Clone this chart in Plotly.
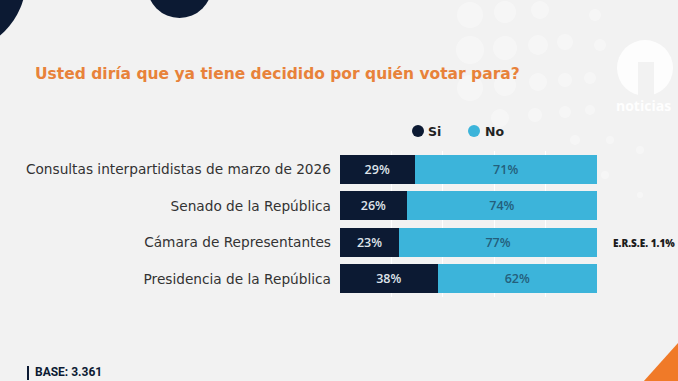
import plotly.graph_objects as go

categories = ["Consultas interpartidistas de marzo de 2026", "Senado de la República",
              "Cámara de Representantes", "Presidencia de la República"]
si_values = [29, 26, 23, 38]
no_values = [71, 74, 77, 62]
series_names = ["Si", "No"]
title_text = "Usted diría que ya tiene decidido por quién votar para?"
error_text = "E.R.S.E. 1.1%"
base_text = "BASE: 3.361"

W, H = 678, 381
L, R, T, B = 340, 81, 151, 84
PW, PH = W - L - R, H - T - B

def px(x):
    return (x - L) / PW

def py(y):
    return (H - B - y) / PH

DARK = "#0c1a33"
BLUE = "#3cb4da"
BG = "#f2f2f2"
ORANGE = "#e8823a"
FONT = "DejaVu Sans"

fig = go.Figure()
fig.add_trace(go.Bar(
    y=categories, x=si_values, orientation="h", name=series_names[0],
    marker=dict(color=DARK, line=dict(width=0)),
    texttemplate="%{x}%", textposition="inside", insidetextanchor="middle",
    textfont=dict(color="#dfe3ea", size=12.5, family="Open Sans", weight=600),
    showlegend=False))
fig.add_trace(go.Bar(
    y=categories, x=no_values, orientation="h", name=series_names[1],
    marker=dict(color=BLUE, line=dict(width=0)),
    texttemplate="%{x}%", textposition="inside", insidetextanchor="middle",
    textfont=dict(color="#245f7c", size=12.5, family="Open Sans", weight=600),
    showlegend=False))

shapes = []
# decorations top-left
shapes.append(dict(type="circle", xref="paper", yref="paper",
                   x0=px(-46 - 72), x1=px(-46 + 72), y0=py(-20 + 72), y1=py(-20 - 72),
                   fillcolor=DARK, line=dict(width=0), layer="below"))
shapes.append(dict(type="circle", xref="paper", yref="paper",
                   x0=px(147), x1=px(212), y0=py(18), y1=py(-47),
                   fillcolor=DARK, line=dict(width=0), layer="below"))
# faint white dots top-right
dots = [(470, 15, 13), (505, 12, 11), (540, 10, 9), (470, 50, 14), (505, 48, 12),
        (538, 45, 10), (565, 42, 8), (470, 88, 13), (505, 85, 11), (538, 82, 9),
        (565, 80, 7), (590, 78, 6), (500, 118, 9), (535, 115, 7), (565, 112, 6),
        (590, 110, 5), (600, 45, 6), (595, 15, 6), (575, 140, 5), (610, 140, 4),
        (560, 165, 4), (605, 175, 4), (640, 150, 4), (640, 195, 3)]
for cx, cy, r in dots:
    shapes.append(dict(type="circle", xref="paper", yref="paper",
                       x0=px(cx - r), x1=px(cx + r), y0=py(cy + r), y1=py(cy - r),
                       fillcolor="rgba(255,255,255,0.35)", line=dict(width=0), layer="below"))
# logo "n"
shapes.append(dict(type="circle", xref="paper", yref="paper",
                   x0=px(617), x1=px(673), y0=py(96), y1=py(40),
                   fillcolor="rgba(255,255,255,0.85)", line=dict(width=0), layer="below"))
shapes.append(dict(type="rect", xref="paper", yref="paper",
                   x0=px(638), x1=px(654), y0=py(97), y1=py(62),
                   fillcolor=BG, line=dict(width=0), layer="below"))
# orange triangle bottom right
shapes.append(dict(type="path", xref="paper", yref="paper",
                   path=f"M {px(643)} {py(382)} L {px(679)} {py(342)} L {px(679)} {py(382)} Z",
                   fillcolor="#f07a28", line=dict(width=0)))
# legend markers
shapes.append(dict(type="circle", xref="paper", yref="paper",
                   x0=px(412), x1=px(424), y0=py(137), y1=py(125),
                   fillcolor=DARK, line=dict(width=0)))
shapes.append(dict(type="circle", xref="paper", yref="paper",
                   x0=px(468), x1=px(480), y0=py(137), y1=py(125),
                   fillcolor=BLUE, line=dict(width=0)))
# base marker bar
shapes.append(dict(type="line", xref="paper", yref="paper",
                   x0=px(28), x1=px(28), y0=py(366), y1=py(380),
                   line=dict(color=DARK, width=2)))

annotations = [
    dict(text=title_text, xref="paper", yref="paper", x=px(33), y=py(74),
         xanchor="left", yanchor="middle", showarrow=False,
         font=dict(family=FONT, size=15.5, color=ORANGE, weight=700)),
    dict(text=series_names[0], xref="paper", yref="paper", x=px(426), y=py(131),
         xanchor="left", yanchor="middle", showarrow=False,
         font=dict(family=FONT, size=12.5, color="#222", weight=600)),
    dict(text=series_names[1], xref="paper", yref="paper", x=px(483), y=py(131),
         xanchor="left", yanchor="middle", showarrow=False,
         font=dict(family=FONT, size=12.5, color="#222", weight=600)),
    dict(text=error_text, xref="paper", yref="paper", x=px(611), y=py(243),
         xanchor="left", yanchor="middle", showarrow=False,
         font=dict(family="Open Sans", size=10, color="#1b1b1b", weight=800)),
    dict(text=base_text, xref="paper", yref="paper", x=px(33), y=py(372),
         xanchor="left", yanchor="middle", showarrow=False,
         font=dict(family="Roboto", size=12, color=DARK, weight=700)),
    dict(text="noticias", xref="paper", yref="paper", x=px(614), y=py(105),
         xanchor="left", yanchor="middle", showarrow=False,
         font=dict(family="Open Sans", size=14, color="rgba(255,255,255,0.95)", weight=700)),
]

fig.update_layout(
    width=W, height=H,
    margin=dict(l=L, r=R, t=T, b=B, pad=0),
    paper_bgcolor=BG, plot_bgcolor=BG,
    barmode="stack", bargap=0.2,
    showlegend=False,
    shapes=shapes, annotations=annotations,
    font=dict(family=FONT),
    xaxis=dict(range=[0, 100], showgrid=True, gridcolor="#ffffff", gridwidth=1,
               dtick=20, showticklabels=False, zeroline=False, showline=False, fixedrange=True),
    yaxis=dict(autorange="reversed", showgrid=False, showline=False, ticks="",
               ticklabelstandoff=8, zeroline=False, fixedrange=True,
               tickfont=dict(family=FONT, size=13.7, color="#333333")),
)

fig.write_html("out.html", config={"displayModeBar": False},
               post_script="document.body.style.margin='0';document.body.style.overflow='hidden';")
